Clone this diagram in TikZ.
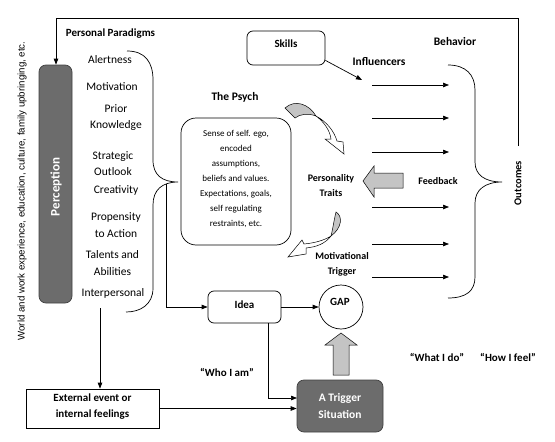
\documentclass[tikz,border=0pt]{standalone}
\usepackage{fontspec}
\setmainfont{Carlito}
\newfontfamily\arialf{Liberation Sans}
\usetikzlibrary{arrows.meta}
\definecolor{darkfill}{HTML}{6C6C6C}
\definecolor{lightfill}{HTML}{C4C4C4}
\tikzset{
  ln/.style={draw=black, line width=0.7pt},
  arr/.style={ln, -{Triangle[length=6pt,width=4.5pt]}},
  lbl/.style={inner sep=0pt, font=\fontsize{11.5}{13}\selectfont},
  blbl/.style={inner sep=0pt, font=\fontsize{11}{13}\selectfont\bfseries},
  slbl/.style={inner sep=0pt, align=center, font=\fontsize{10}{15}\selectfont\bfseries},
  rbox/.style={draw=black, line width=0.7pt, rounded corners=6pt, fill=white},
  darkbox/.style={draw=black!75, line width=0.7pt, rounded corners=7pt, fill=darkfill},
  grayshape/.style={draw=black, line width=0.5pt, fill=lightfill},
  thinshape/.style={draw=black, line width=0.5pt, fill=white},
}
\begin{document}
\begin{tikzpicture}[x=1pt,y=-1pt]
\useasboundingbox (0,0) rectangle (555,442);

% left rotated text
\node[rotate=90, inner sep=0pt, font=\arialf\fontsize{9.7}{11}\selectfont] (world) at (22,191) {World and work experience, education, culture, family upbringing, etc.};

% Perception
\node[darkbox, minimum width=33pt, minimum height=238pt, inner sep=0pt] (perc) at (55.5,184) {};
\node[rotate=90, inner sep=0pt, text=white, font=\fontsize{13}{15}\selectfont\bfseries] (perctxt) at (56,187) {Perception};

% feedback loop line on top
\coordinate (otop) at (518,146);
\coordinate (fbR) at (518,18);
\coordinate (fbL) at (56,18);
\draw[arr] (otop) -- (fbR) -- (fbL) -- (fbL |- perc.north);

% Personal paradigms
\node[blbl] (pp) at (110.5,34) {Personal Paradigms};
\node[lbl] (p1) at (110,60) {Alertness};
\node[lbl] (p2) at (112,87) {Motivation};
\node[lbl, align=center, font=\fontsize{11.5}{16}\selectfont] (p3) at (116,118) {Prior\\Knowledge};
\node[lbl, align=center, font=\fontsize{11.5}{16}\selectfont] (p4) at (113,164) {Strategic\\Outlook};
\node[lbl] (p5) at (116,190) {Creativity};
\node[lbl, align=center, font=\fontsize{11.5}{17}\selectfont] (p6) at (116,225.5) {Propensity\\to Action};
\node[lbl, align=center, font=\fontsize{11.5}{17}\selectfont] (p7) at (112.5,263.5) {Talents and\\Abilities};
\node[lbl] (p8) at (113,293) {Interpersonal};

% left brace
\coordinate (lbtip) at (178,182);
\draw[ln] (127,51) .. controls (145,51) and (153,62) .. (153,80) -- (153,160)
  .. controls (153,175) and (162,182) .. (lbtip)
  .. controls (162,182) and (153,190) .. (153,205) -- (153,288)
  .. controls (153,305) and (140,312) .. (126,312);

% Psych
\node[inner sep=0pt, font=\fontsize{11.5}{13}\selectfont\bfseries] (psychlbl) at (235,97) {The Psych};
\node[draw=black, line width=0.7pt, rounded corners=15pt, minimum width=110pt, minimum height=127pt, inner sep=0pt] (psych) at (236,181.5) {};
\node[inner sep=0pt, align=center, font=\fontsize{9}{15}\selectfont] (psychtxt) at (236,178.5) {Sense of self. ego,\\encoded\\assumptions,\\beliefs and values.\\Expectations, goals,\\self regulating\\restraints, etc.};

% Skills
\node[rbox, minimum width=78pt, minimum height=34pt, inner sep=0pt] (skills) at (286,48) {};
\node[blbl] (skillstxt) at (286,44) {Skills};
\coordinate (infl) at (362,80);
\path (skills.south east) ++(0,-5) coordinate (skse);
\draw[arr] (skse) -- (infl);
\node[blbl, font=\fontsize{11.5}{13}\selectfont\bfseries] (influencers) at (379,62) {Influencers};
\node[blbl, font=\fontsize{11.5}{13}\selectfont\bfseries] (behavior) at (455,42) {Behavior};

% horizontal arrows
\foreach \i/\y in {1/85,2/118,3/152,4/207,5/244,6/277}{
  \coordinate (hs\i) at (372,\y);
  \coordinate (he\i) at (449,\y);
  \draw[arr] (hs\i) -- (he\i);
}

% right brace
\coordinate (rbtip) at (502,182);
\draw[ln] (448,65) .. controls (466,65) and (475,75) .. (475,90) -- (475,162)
  .. controls (475,175) and (485,182) .. (rbtip)
  .. controls (485,182) and (475,190) .. (475,203) -- (475,277)
  .. controls (475,291) and (466,298) .. (448,298);

\node[rotate=90, inner sep=0pt, font=\fontsize{10.5}{12}\selectfont\bfseries] (outcomes) at (518,183) {Outcomes};

% Personality traits & feedback
\node[slbl] (traits) at (331,185.5) {Personality\\Traits};
\node[inner sep=0pt, font=\fontsize{10}{12}\selectfont\bfseries] (feedback) at (438,181) {Feedback};
\coordinate (fbarrow) at (363,181);
\draw[grayshape] (fbarrow) -- ++(11,-15) -- ++(0,7) -- ++(29,0) -- ++(0,15) -- ++(-29,0) -- ++(0,9) -- cycle;

% Motivational trigger
\node[slbl] (mot) at (342,264.5) {Motivational\\Trigger};

% curved arrows (top)
\draw[thinshape] (316,116) .. controls (327,122) and (334,131) .. (337,141)
  -- (343,142) -- (344,154) -- (325,139) -- (331,139)
  .. controls (330,130) and (323,121) .. (316,116);
\draw[grayshape] (285,108) .. controls (295,99) and (309,104) .. (316,116)
  .. controls (308,113) and (300,114) .. (295,118) -- cycle;
% curved arrows (bottom)
\draw[thinshape] (331,236) .. controls (325,244) and (316,247) .. (306,248)
  -- (306,254) -- (288,257) -- (302,240) -- (304,244)
  .. controls (315,243) and (325,240) .. (331,236);
\draw[grayshape] (336,212) .. controls (343,216) and (342,228) .. (331,236)
  .. controls (333,228) and (334,220) .. cycle;

% Idea, GAP
\node[rbox, minimum width=73pt, minimum height=32pt, inner sep=0pt] (idea) at (244.5,307) {};
\node[blbl] (ideatxt) at (244.5,305) {Idea};
\node[draw=black, line width=0.7pt, circle, minimum size=44pt, inner sep=0pt] (gap) at (341,307) {};
\node[blbl] (gaptxt) at (340,302) {GAP};
\draw[arr] (idea.east) -- (gap.west);

% brace tip to idea
\coordinate (bt) at (166,184);
\draw[arr] (bt) |- (idea.west);

% External
\node[draw=black, line width=0.7pt, minimum width=133pt, minimum height=39pt, inner sep=0pt] (ext) at (92.5,408.5) {};
\node[blbl, align=center, font=\fontsize{11}{16}\selectfont\bfseries] (exttxt) at (92.5,407) {External event or\\internal feelings};
\coordinate (pdown) at (100,308);
\draw[arr] (pdown) -- (pdown |- ext.north);

% Trigger
\node[darkbox, minimum width=86pt, minimum height=52pt, inner sep=0pt] (trig) at (340,406) {};
\node[inner sep=0pt, align=center, text=white, font=\fontsize{11.5}{17}\selectfont\bfseries] (trigtxt) at (340,406) {A Trigger\\Situation};
\coordinate (ideab) at (268,323);
\coordinate (trigin) at (297,398);
\draw[arr] (ideab) |- (trigin);
\draw[arr] (ext.east) -- (ext.east -| trig.west);

% big up arrow
\coordinate (uptip) at (341,333);
\draw[grayshape] (uptip) -- ++(16,12) -- ++(-8,0) -- ++(0,30) -- ++(-16,0) -- ++(0,-30) -- ++(-8,0) -- cycle;

% quotes
\node[blbl] (who) at (227,372) {“Who I am”};
\node[blbl] (what) at (437,357) {“What I do”};
\node[blbl] (how) at (508,357) {“How I feel”};
\end{tikzpicture}
\end{document}
